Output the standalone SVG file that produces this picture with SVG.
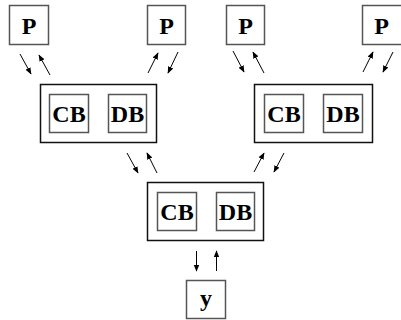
<svg xmlns="http://www.w3.org/2000/svg" width="401" height="320" viewBox="0 0 401 320">
  <defs>
    <marker id="ah" viewBox="0 0 10 10" refX="9" refY="5" markerWidth="7" markerHeight="7" orient="auto" markerUnits="userSpaceOnUse">
      <path d="M0,1 L10,5 L0,9 Z" fill="#000"/>
    </marker>
    <style>
      .box { fill: #fff; stroke: #555; stroke-width: 1.5; }
      .outer { fill: #fff; stroke: #111; stroke-width: 1.5; }
      .arr { stroke: #000; stroke-width: 1; fill: none; marker-end: url(#ah); }
    </style>
  </defs>
  <rect width="401" height="320" fill="#fff"/>

  <g font-family="Liberation Serif" font-weight="bold" font-size="24" text-anchor="middle" fill="#000">
  <!-- processors -->
  <g id="p1"><rect class="box" x="9.5" y="5.5" width="39" height="39"/><text x="29" y="33.5">P</text></g>
  <g id="p2"><rect class="box" x="147.5" y="5.5" width="38" height="39"/><text x="166.5" y="33.5">P</text></g>
  <g id="p3"><rect class="box" x="226.5" y="5.5" width="38" height="39"/><text x="245.5" y="33.5">P</text></g>
  <g id="p4"><rect class="box" x="362.5" y="5.5" width="40" height="39"/><text x="381.5" y="33.5">P</text></g>

  <!-- left merge node -->
  <g id="m1">
    <rect class="outer" x="40.5" y="84.5" width="116" height="58"/>
    <rect class="box" x="49.5" y="94.5" width="39" height="38"/><text x="69" y="122">CB</text>
    <rect class="box" x="108.5" y="94.5" width="38" height="38"/><text x="127.5" y="122">DB</text>
  </g>
  <!-- right merge node -->
  <g id="m2">
    <rect class="outer" x="254.5" y="84.5" width="118" height="58"/>
    <rect class="box" x="264.5" y="94.5" width="39" height="38"/><text x="284" y="122">CB</text>
    <rect class="box" x="323.5" y="94.5" width="39" height="38"/><text x="343" y="122">DB</text>
  </g>
  <!-- root merge node -->
  <g id="m3">
    <rect class="outer" x="147.5" y="182.5" width="116" height="58"/>
    <rect class="box" x="157.5" y="192.5" width="39" height="38"/><text x="177" y="220">CB</text>
    <rect class="box" x="216.5" y="192.5" width="38" height="38"/><text x="235.5" y="220">DB</text>
  </g>
  <!-- output -->
  <g id="out"><rect class="box" x="186.5" y="280.5" width="39" height="38"/><text x="206" y="306">y</text></g>
  </g>

  <!-- connectors -->
  <g id="edges">
    <line class="arr" x1="20" y1="54" x2="31" y2="74"/>
    <line class="arr" x1="50" y1="75" x2="39" y2="55"/>
    <line class="arr" x1="148" y1="73" x2="158" y2="53"/>
    <line class="arr" x1="178" y1="52" x2="168" y2="73"/>

    <line class="arr" x1="233" y1="51" x2="244" y2="72"/>
    <line class="arr" x1="264" y1="73" x2="253" y2="52"/>
    <line class="arr" x1="363" y1="72" x2="373" y2="52"/>
    <line class="arr" x1="393" y1="52" x2="383" y2="72"/>

    <line class="arr" x1="127" y1="153" x2="138" y2="173"/>
    <line class="arr" x1="157" y1="173" x2="147" y2="153"/>
    <line class="arr" x1="254" y1="172" x2="264" y2="153"/>
    <line class="arr" x1="284" y1="153" x2="274" y2="172"/>

    <line class="arr" x1="196.5" y1="251" x2="196.5" y2="271"/>
    <line class="arr" x1="216.5" y1="271" x2="216.5" y2="251"/>
  </g>
</svg>
